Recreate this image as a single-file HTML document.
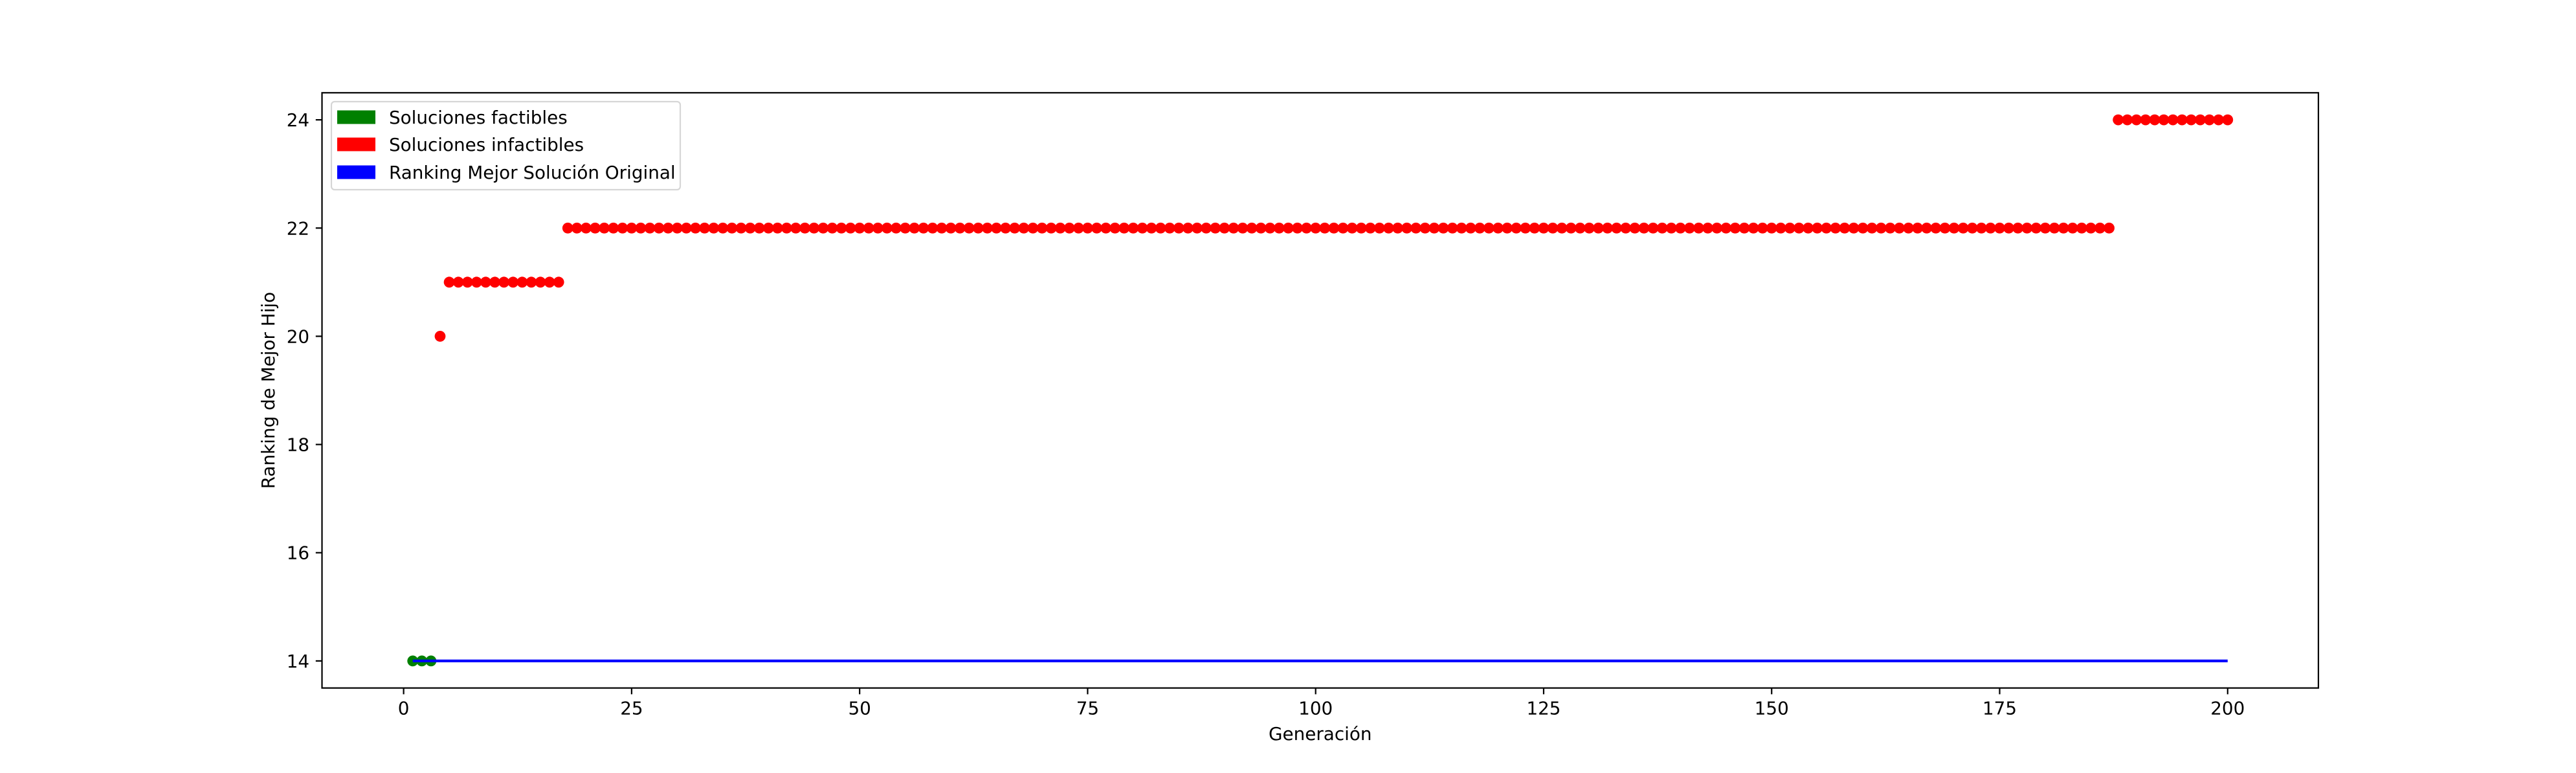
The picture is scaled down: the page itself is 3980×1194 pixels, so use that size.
<!DOCTYPE html>
<html><head><meta charset="utf-8"><style>
html,body{margin:0;padding:0;background:#fff}
svg{display:block;font-family:"DejaVu Sans","Liberation Sans",sans-serif}
</style></head><body>
<svg id="chart" width="3980" height="1194" viewBox="0 0 3980 1194" xmlns="http://www.w3.org/2000/svg">
<rect width="3980" height="1194" fill="#fff"/>
<g id="marks"></g>
<g id="axes"></g>
</svg>
<script>
const feasibleX = [1,2,3];
const feasibleY = [14,14,14];
const infeasibleX = [4,5,6,7,8,9,10,11,12,13,14,15,16,17];
const infeasibleY = [20,21,21,21,21,21,21,21,21,21,21,21,21,21];
const infeasible22Start = 18, infeasible22End = 187, infeasible22Val = 22;
const infeasible24Start = 188, infeasible24End = 200, infeasible24Val = 24;
const baselineX = [1,200];
const baselineY = [14,14];
const xTicks = [0,25,50,75,100,125,150,175,200];
const yTicks = [14,16,18,20,22,24];
const legendLabels = ["Soluciones factibles","Soluciones infactibles","Ranking Mejor Solución Original"];

const NS="http://www.w3.org/2000/svg";
const L=497.5,R=3582,T=143.3,B=1062.7;
const xmin=-8.95,xmax=209.95,ymin=13.5,ymax=24.5;
const sx=v=>L+(v-xmin)/(xmax-xmin)*(R-L);
const sy=v=>B-(v-ymin)/(ymax-ymin)*(B-T);
function mk(tag,attrs,parent){const e=document.createElementNS(NS,tag);for(const k in attrs)e.setAttribute(k,attrs[k]);parent.appendChild(e);return e;}
const marks=document.getElementById('marks'),axes=document.getElementById('axes');

// expand red series
const redX=infeasibleX.slice(),redY=infeasibleY.slice();
for(let g=infeasible22Start;g<=infeasible22End;g++){redX.push(g);redY.push(infeasible22Val);}
for(let g=infeasible24Start;g<=infeasible24End;g++){redX.push(g);redY.push(infeasible24Val);}

feasibleX.forEach((x,i)=>{
  const c=mk('circle',{cx:sx(x),cy:sy(feasibleY[i]),r:8.4,fill:'#008000'},marks);
  
  
});
redX.forEach((x,i)=>{
  const c=mk('circle',{cx:sx(x),cy:sy(redY[i]),r:8.4,fill:'#ff0000'},marks);
  
  
});
const bl=mk('line',{x1:sx(baselineX[0]),y1:sy(baselineY[0]),x2:sx(baselineX[1]),y2:sy(baselineY[1]),stroke:'#0000ff','stroke-width':4.2},marks);



// spines
const sp=mk('rect',{x:L,y:T,width:R-L,height:B-T,fill:'none',stroke:'#000','stroke-width':2.2},axes);



xTicks.forEach(v=>{
  const x=sx(v);
  const t=mk('line',{x1:x,y1:B,x2:x,y2:B+9.7,stroke:'#000','stroke-width':2.2},axes);
  
  
  const tx=mk('text',{x:x,y:B+41,'font-size':27.8,'text-anchor':'middle',fill:'#000'},axes);
  tx.textContent=v;
  
  
});
yTicks.forEach(v=>{
  const y=sy(v);
  const t=mk('line',{x1:L-9.7,y1:y,x2:L,y2:y,stroke:'#000','stroke-width':2.2},axes);
  
  
  const tx=mk('text',{x:L-19.4,y:y+10,'font-size':27.8,'text-anchor':'end',fill:'#000'},axes);
  tx.textContent=v;
  
  
});
const xl=mk('text',{x:(L+R)/2,y:1143,'font-size':27.8,'text-anchor':'middle',fill:'#000'},axes);
xl.textContent='Generación';


const yl=mk('text',{x:0,y:0,'font-size':27.8,'text-anchor':'middle',fill:'#000',transform:`translate(424,${(T+B)/2}) rotate(-90)`},axes);
yl.textContent='Ranking de Mejor Hijo';



// legend
const lg=mk('g',{},axes);


mk('rect',{x:512,y:157,width:539,height:136,rx:5,fill:'#fff','fill-opacity':0.8,stroke:'#d6d6d6','stroke-width':2.2},lg);
const cols=['#008000','#ff0000','#0000ff'];
const rows=[181,223,266];
legendLabels.forEach((lab,i)=>{
  const e=mk('g',{},lg);
  
  
  mk('rect',{x:521,y:rows[i]-10.5,width:59,height:21,fill:cols[i]},e);
  const t=mk('text',{x:601,y:rows[i]+10,'font-size':27.8,fill:'#000'},e);
  t.textContent=lab;
});
</script>
</body></html>
